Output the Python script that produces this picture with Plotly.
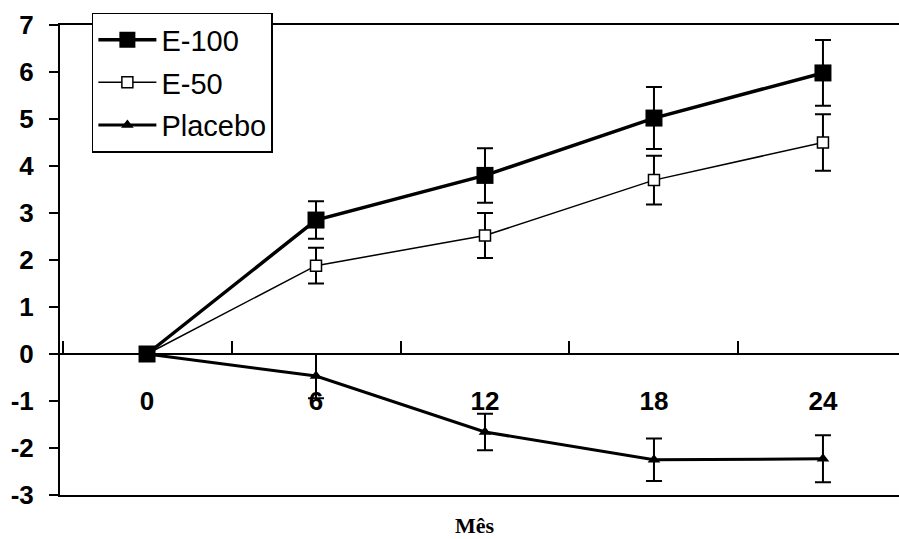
import plotly.graph_objects as go

months = [0, 6, 12, 18, 24]
e100 = [0, 2.85, 3.8, 5.02, 5.98]
e100_err = [0, 0.4, 0.58, 0.66, 0.7]
e50 = [0, 1.88, 2.52, 3.7, 4.5]
e50_err = [0, 0.38, 0.48, 0.52, 0.6]
placebo = [0, -0.47, -1.66, -2.25, -2.23]
placebo_err = [0, 0.47, 0.39, 0.45, 0.5]
y_ticks = [-3, -2, -1, 0, 1, 2, 3, 4, 5, 6, 7]
y_labels = ["-3", "-2", "-1", "0", "1", "2", "3", "4", "5", "6", "7"]
x_labels = ["0", "6", "12", "18", "24"]
x_minor = [-3, 3, 9, 15, 21]

FONT = "Liberation Sans, Arial"

fig = go.Figure()
fig.add_trace(go.Scatter(
    x=months, y=placebo, name="Placebo", mode="lines+markers",
    legendgroup="c", legendrank=3,
    line=dict(color="black", width=3),
    marker=dict(symbol="triangle-up", size=11, color="black"),
    error_y=dict(type="data", array=placebo_err, color="black", thickness=2, width=8),
))
fig.add_trace(go.Scatter(
    x=months, y=e50, name="E-50", mode="lines+markers",
    legendgroup="b", legendrank=2,
    line=dict(color="black", width=1.5),
    marker=dict(symbol="square", size=11, color="white", line=dict(color="black", width=1.5)),
    error_y=dict(type="data", array=e50_err, color="black", thickness=2, width=8),
))
fig.add_trace(go.Scatter(
    x=months, y=e100, name="E-100", mode="lines+markers",
    legendgroup="a", legendrank=1,
    line=dict(color="black", width=3.5),
    marker=dict(symbol="square", size=17, color="black"),
    error_y=dict(type="data", array=e100_err, color="black", thickness=2, width=8),
))

xr = [-3.09, 26.7]
fig.update_layout(
    width=899, height=539,
    margin=dict(l=60, r=0, t=25, b=44),
    paper_bgcolor="white", plot_bgcolor="white",
    showlegend=True,
    legend=dict(
        x=0.038, y=1.026, xanchor="left", yanchor="top",
        bgcolor="white", bordercolor="black", borderwidth=1.5,
        font=dict(family=FONT, size=29, color="black"),
        itemwidth=58, tracegroupgap=2,
    ),
    xaxis=dict(
        range=xr, showline=True, mirror=True, linecolor="black", linewidth=2,
        showgrid=False, zeroline=False, ticks="", showticklabels=False,
    ),
    xaxis2=dict(
        range=xr, overlaying="x", anchor="free", position=0.3, side="bottom",
        showline=True, linecolor="black", linewidth=1.5,
        showgrid=False, zeroline=False,
        tickmode="array", tickvals=months, ticktext=["<b>%s</b>" % t for t in x_labels],
        ticks="", ticklabelstandoff=24,
        tickfont=dict(family=FONT, size=26, color="black"),
        minor=dict(tickmode="array", tickvals=x_minor, ticks="inside", ticklen=12,
                   tickcolor="black", tickwidth=1.5),
    ),
    yaxis=dict(
        range=[-3, 7], showline=True, linecolor="black", linewidth=2,
        showgrid=False, zeroline=False,
        tickmode="array", tickvals=y_ticks, ticktext=["<b>%s</b>" % t for t in y_labels],
        ticks="outside", ticklen=9, tickcolor="black", tickwidth=1.5,
        ticklabelstandoff=10,
        tickfont=dict(family=FONT, size=26, color="black"),
    ),
    annotations=[dict(
        text="<b>Mês</b>", xref="paper", yref="paper", x=0.495, y=-0.064,
        xanchor="center", yanchor="middle", showarrow=False,
        font=dict(family="Liberation Serif, Times New Roman", size=22, color="black"),
    )],
)
fig.add_trace(go.Scatter(x=[months[0]], y=[0], xaxis="x2", mode="markers",
                         marker=dict(opacity=0), showlegend=False, hoverinfo="skip"))

fig.write_html("out.html")
